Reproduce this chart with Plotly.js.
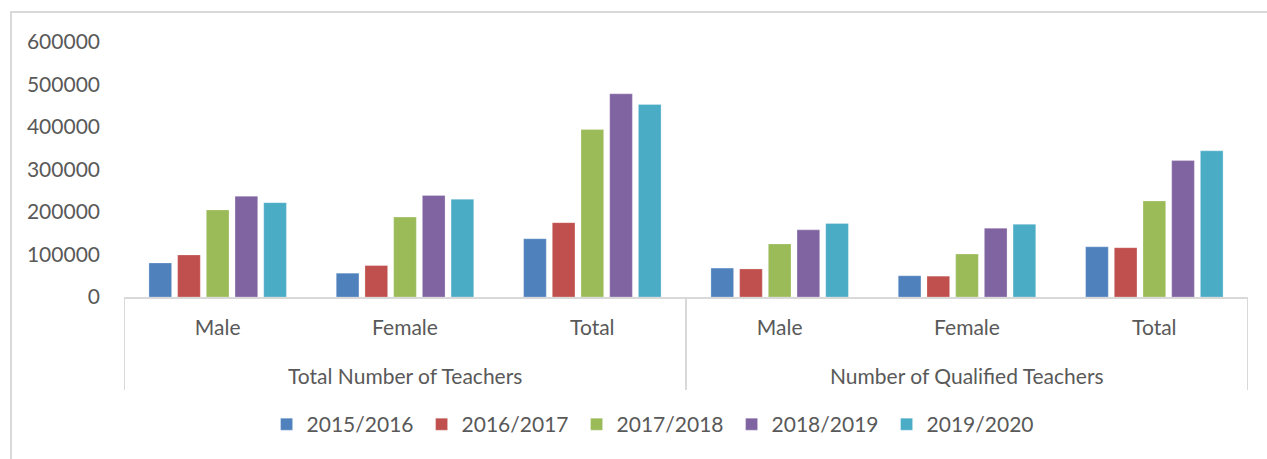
<!DOCTYPE html>
<html>
<head>
<meta charset="utf-8">
<script src="https://cdn.plot.ly/plotly-3.0.1.min.js"></script>
<style>
  html, body { margin: 0; padding: 0; background: #ffffff; }
  #chart { width: 1267px; height: 459px; }
</style>
</head>
<body>
<div id="chart"></div>
<script>
// ---- data ----
const groups = ["Total Number of Teachers", "Total Number of Teachers", "Total Number of Teachers",
                "Number of Qualified Teachers", "Number of Qualified Teachers", "Number of Qualified Teachers"];
const categories = ["Male", "Female", "Total", "Male", "Female", "Total"];
const years = ["2015/2016", "2016/2017", "2017/2018", "2018/2019", "2019/2020"];

const v2015_2016 = [80000, 56000, 137000, 68000, 50000, 118000];
const v2016_2017 = [99000, 74000, 175000, 66000, 49000, 116000];
const v2017_2018 = [205000, 188000, 394000, 125000, 101000, 226000];
const v2018_2019 = [237000, 239000, 478000, 158000, 162000, 321000];
const v2019_2020 = [222000, 230000, 453000, 173000, 171000, 344000];

const yTickVals = [0, 100000, 200000, 300000, 400000, 500000, 600000];
const yTickText = ["0", "100000", "200000", "300000", "400000", "500000", "600000"];

// ---- styles ----
const seriesValues = [v2015_2016, v2016_2017, v2017_2018, v2018_2019, v2019_2020];
const colors = ["#4F81BD", "#C0504D", "#9BBB59", "#8064A2", "#4BACC6"];
const textColor = "#595959";
const lineColor = "#D9D9D9";
const fontFamily = "Lato, 'Open Sans', 'Liberation Sans', sans-serif";
const fs = 21;

// category positions on the axis (index of each category slot)
const xPos = categories.map((c, i) => i);

const traces = years.map((y, i) => ({
  type: "bar",
  name: y,
  x: xPos,
  y: seriesValues[i],
  customdata: groups,
  marker: { color: colors[i], line: { color: "rgba(255,255,255,0.5)", width: 0.5 } },
  hovertemplate: "%{customdata} - %{text}: %{y}<extra>" + y + "</extra>",
  text: categories,
  textposition: "none"
}));

// group label annotations & dividers derived from the group array
const annotations = [];
const shapes = [];
const dividerDepth = -0.365;   // paper units below the axis
const groupLabelY = -0.306;
let start = 0;
for (let i = 1; i <= groups.length; i++) {
  if (i === groups.length || groups[i] !== groups[start]) {
    annotations.push({
      xref: "x", yref: "paper",
      x: (start + i - 1) / 2, y: groupLabelY,
      text: groups[start], showarrow: false,
      xanchor: "center", yanchor: "middle",
      font: { family: fontFamily, size: fs, color: textColor }
    });
    start = i;
  }
}
const dividerPositions = [-0.5];
for (let i = 1; i < groups.length; i++) if (groups[i] !== groups[i - 1]) dividerPositions.push(i - 0.5);
dividerPositions.push(groups.length - 0.5);
dividerPositions.forEach(p => shapes.push({
  type: "line", xref: "x", yref: "paper",
  x0: p, x1: p, y0: 0, y1: dividerDepth,
  line: { color: lineColor, width: 2 }
}));
// outer chart border (partly outside the picture, as in the original)
shapes.push({
  type: "rect", xref: "paper", yref: "paper",
  x0: -0.1005, x1: 1.2, y0: -1.0, y1: 1.1176,
  line: { color: lineColor, width: 2 },
  fillcolor: "rgba(0,0,0,0)",
  layer: "below"
});

const layout = {
  width: 1267,
  height: 459,
  margin: { l: 124, r: 19, t: 42, b: 162 },
  paper_bgcolor: "#ffffff",
  plot_bgcolor: "#ffffff",
  font: { family: fontFamily, size: fs, color: textColor },
  barmode: "group",
  bargap: 0.234,
  bargroupgap: 0.21,
  showlegend: true,
  legend: {
    orientation: "h",
    x: 0.4716,
    xanchor: "center",
    y: -0.5,
    yanchor: "middle",
    entrywidth: 110,
    entrywidthmode: "pixels",
    font: { family: fontFamily, size: fs, color: textColor },
    itemclick: false
  },
  xaxis: {
    range: [-0.5, categories.length - 0.5],
    tickmode: "array",
    tickvals: xPos,
    ticktext: categories,
    showline: true,
    linecolor: lineColor,
    linewidth: 2,
    showgrid: false,
    zeroline: false,
    ticks: "",
    ticklabelstandoff: 11,
    tickfont: { family: fontFamily, size: fs, color: textColor }
  },
  yaxis: {
    range: [0, 600000],
    tickmode: "array",
    tickvals: yTickVals,
    ticktext: yTickText,
    showgrid: false,
    zeroline: false,
    showline: false,
    ticks: "",
    ticklabelstandoff: 23,
    tickfont: { family: fontFamily, size: fs, color: textColor }
  },
  annotations: annotations,
  shapes: shapes
};

Plotly.newPlot("chart", traces, layout, { displayModeBar: false, staticPlot: true });
</script>
</body>
</html>
